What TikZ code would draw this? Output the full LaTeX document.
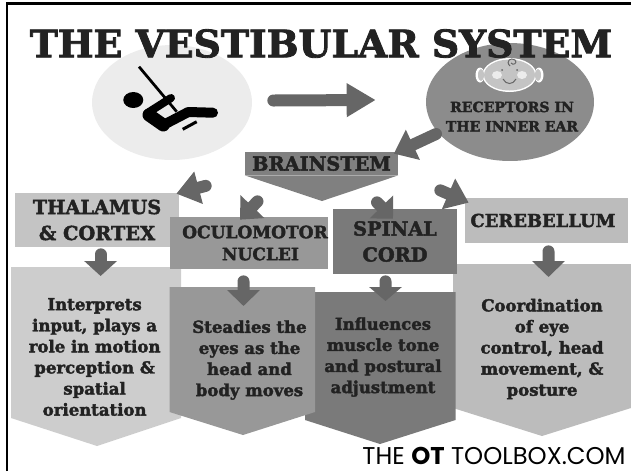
\documentclass[tikz,border=0pt]{standalone}
\usepackage{fontspec}
\setmainfont{DejaVu Serif}[BoldFeatures={FakeBold=2.2}]
\newfontfamily\creditfont{Poppins}
\usepackage{tikz}
\usetikzlibrary{arrows.meta, positioning, shapes.geometric, calc}

\definecolor{inkdark}{HTML}{222222}
\definecolor{arrowgray}{HTML}{666666}
\definecolor{swinggray}{HTML}{ECECEC}
\definecolor{eargray}{HTML}{8C8C8C}
\definecolor{stemgray}{HTML}{808080}
\definecolor{thalgray}{HTML}{C4C4C4}
\definecolor{oculgray}{HTML}{989898}
\definecolor{cordgray}{HTML}{7A7A7A}
\definecolor{cerebgray}{HTML}{BCBCBC}
\definecolor{pentlight}{HTML}{CDCDCD}

\tikzset{
    fatarrow/.style={draw=arrowgray, line width=.24cm, line cap=round, -{Triangle[length=#1, width=.64cm, fill=arrowgray]}},
    fatarrow/.default=.42cm,
    boxnode/.style={rectangle, inner sep=0pt, text=inkdark, font=\bfseries, align=center},
    infotext/.style={inner sep=0pt, text=inkdark, align=center, font=\fontsize{9.4}{12}\selectfont\bfseries},
    bodyline/.style={line width=#1, line cap=round, line join=round, black}
}

\begin{document}
\begin{tikzpicture}[x=.02cm, y=-.02cm]
    \useasboundingbox (0,0) rectangle (631,471);
    \draw[line width=.05cm] (7,471) |- (631,3.5);

    % circles
    \node[ellipse, fill=swinggray, inner sep=0pt, minimum width=3.2cm, minimum height=2.3cm] (swing) at (172,102.5) {};
    \node[ellipse, fill=eargray, inner sep=0pt, minimum width=3.36cm, minimum height=2.36cm] (receptors) at (510,102) {};
    \node[inner sep=0pt, text=inkdark, font=\fontsize{21.5}{24}\selectfont\bfseries] (title) at (321,43.5) {THE VESTIBULAR SYSTEM};

    % swing
    \draw[bodyline=.055cm, line cap=butt] (139,66.7) -- (176.7,111.7);
    \fill[black] (133.3,100) ellipse (10 and 8);
    \draw[bodyline=.16cm] (171,98) -- (147,113.3);
    \draw[bodyline=.26cm] (149,115) -- (163.3,125);
    \draw[bodyline=.2cm] (163.3,125) -- (188.3,112) -- (213,112.7);
    \draw[bodyline=.06cm, line cap=butt] (182.7,129.3) -- (196.7,121.7);

    % baby
    \fill[white] (480,75) ellipse (4.5 and 7.5) (539,75) ellipse (4.5 and 7.5);
    \fill[white] (509.5,75) ellipse (27 and 17);
    \fill[thalgray] (481,75) ellipse (3 and 6) (538,75) ellipse (3 and 6);
    \fill[thalgray] (509.5,75) ellipse (25.5 and 15.5);
    \fill[swinggray] (497,75) ellipse (5 and 4) (522,75) ellipse (5 and 4);
    \fill[arrowgray] (502,70) circle (1) (517,70) circle (1);
    \draw[arrowgray, line width=.02cm] (503,79) .. controls (506,85) and (513,85) .. (516,79);
    \draw[arrowgray, line width=.02cm] (510,66) .. controls (505,61) and (511,57) .. (515,60) .. controls (518,63) and (513,66) .. (511,63);
    \node[inner sep=0pt, text=inkdark, align=center, font=\fontsize{8}{11}\selectfont\bfseries] (receptorstext) at (512,116.5) {RECEPTORS IN\\THE INNER EAR};

    % brainstem
    \node[boxnode, fill=stemgray, minimum width=3.06cm, minimum height=.46cm, font=\fontsize{11}{12}\selectfont\bfseries] (brainstem) at (321.5,163.5) {BRAINSTEM};
    \fill[stemgray] (brainstem.south west) -- (322,201) -- (brainstem.south east) -- cycle;

    % lower panels
    \fill[pentlight] (11,267) -- (181,267) -- (181,418) -- (97,446) -- (11,418) -- cycle;
    \fill[cerebgray] (453,264) -- (631,264) -- (631,408) -- (542,436) -- (453,408) -- cycle;
    \fill[cordgray] (305,292) -- (455.5,292) -- (455.5,420) -- (380,444) -- (305,420) -- cycle;
    \fill[oculgray] (169.5,287) -- (315,287) -- (315,412) -- (243,435) -- (169.5,412) -- cycle;
    \coordinate (panelthal) at (97,267);
    \coordinate (panelocul) at (242,287);
    \coordinate (panelcord) at (380,292);
    \coordinate (panelcereb) at (542,264);

    \node[boxnode, fill=thalgray, minimum width=3.28cm, minimum height=1.08cm, font=\fontsize{11}{14.8}\selectfont\bfseries] (thalamus) at (97,220) {THALAMUS\\\& CORTEX};
    \node[boxnode, fill=oculgray, minimum width=3.12cm, minimum height=1.04cm, font=\fontsize{9.7}{12.5}\selectfont\bfseries] (oculomotor) at (249,243) {\hspace*{6.8pt}OCULOMOTOR\\\hspace*{13pt}NUCLEI};
    \node[boxnode, fill=cordgray, minimum width=2.48cm, minimum height=1.3cm, font=\fontsize{11}{14.8}\selectfont\bfseries] (spinal) at (395,241.5) {SPINAL\\CORD};
    \node[boxnode, fill=cerebgray, minimum width=3.27cm, minimum height=.9cm, font=\fontsize{10.2}{12}\selectfont\bfseries] (cerebellum) at (546.75,220.5) {CEREBELLUM\hspace*{4.3pt}};

    \node[infotext] (interprets) at (94.6,357) {Interprets\\input, plays a\\role in motion\\perception \&\\spatial\\orientation};
    \node[infotext] (steadies) at (249.5,360) {Steadies the\\eyes as the\\head and\\body moves};
    \node[infotext] (influences) at (383,357) {Influences\\muscle tone\\and postural\\adjustment};
    \node[infotext] (coordination) at (542,349) {Coordination\\of eye\\control, head\\movement, \&\\posture};

    % arrows
    \draw[fatarrow=.58cm] ($(swing.east)+(21,-2)$) -- ($(receptors.west)+(-50,-2)$);
    \draw[fatarrow] ($(receptors.center)+(-74,32)$) -- ($(brainstem.north east)+(-4.5,2)$);
    \draw[fatarrow=.46cm] ($(brainstem.south west)+(-39,10.5)$) -- ($(thalamus.north east)+(-3,1)$);
    \draw[fatarrow=.36cm] ($(brainstem.south)+(-64,26)$) -- ($(oculomotor.north)+(-9,3)$);
    \draw[fatarrow=.33cm] ($(brainstem.south)+(55.5,27)$) -- ($(spinal.north)+(-2,10)$);
    \draw[fatarrow=.44cm] ($(brainstem.south east)+(42,15)$) -- ($(cerebellum.north west)+(4,5)$);
    \draw[fatarrow=.30cm] ($(thalamus.south)+(3.6,7)$) -- ($(panelthal)+(3.6,9)$);
    \draw[fatarrow=.32cm] ($(oculomotor.south)+(-5.5,12)$) -- ($(panelocul)+(1.5,19)$);
    \draw[fatarrow=.28cm] ($(spinal.south)+(-9.5,7)$) -- ($(panelcord)+(5.5,9)$);
    \draw[fatarrow=.32cm] ($(cerebellum.south)+(1.75,8)$) -- ($(panelcereb)+(6.5,13)$);

    \node[inner sep=0pt, font=\fontsize{13.8}{15}\selectfont\creditfont] (credit) at (494,456) {THE {\bfseries OT} TOOLBOX.COM};
\end{tikzpicture}
\end{document}
